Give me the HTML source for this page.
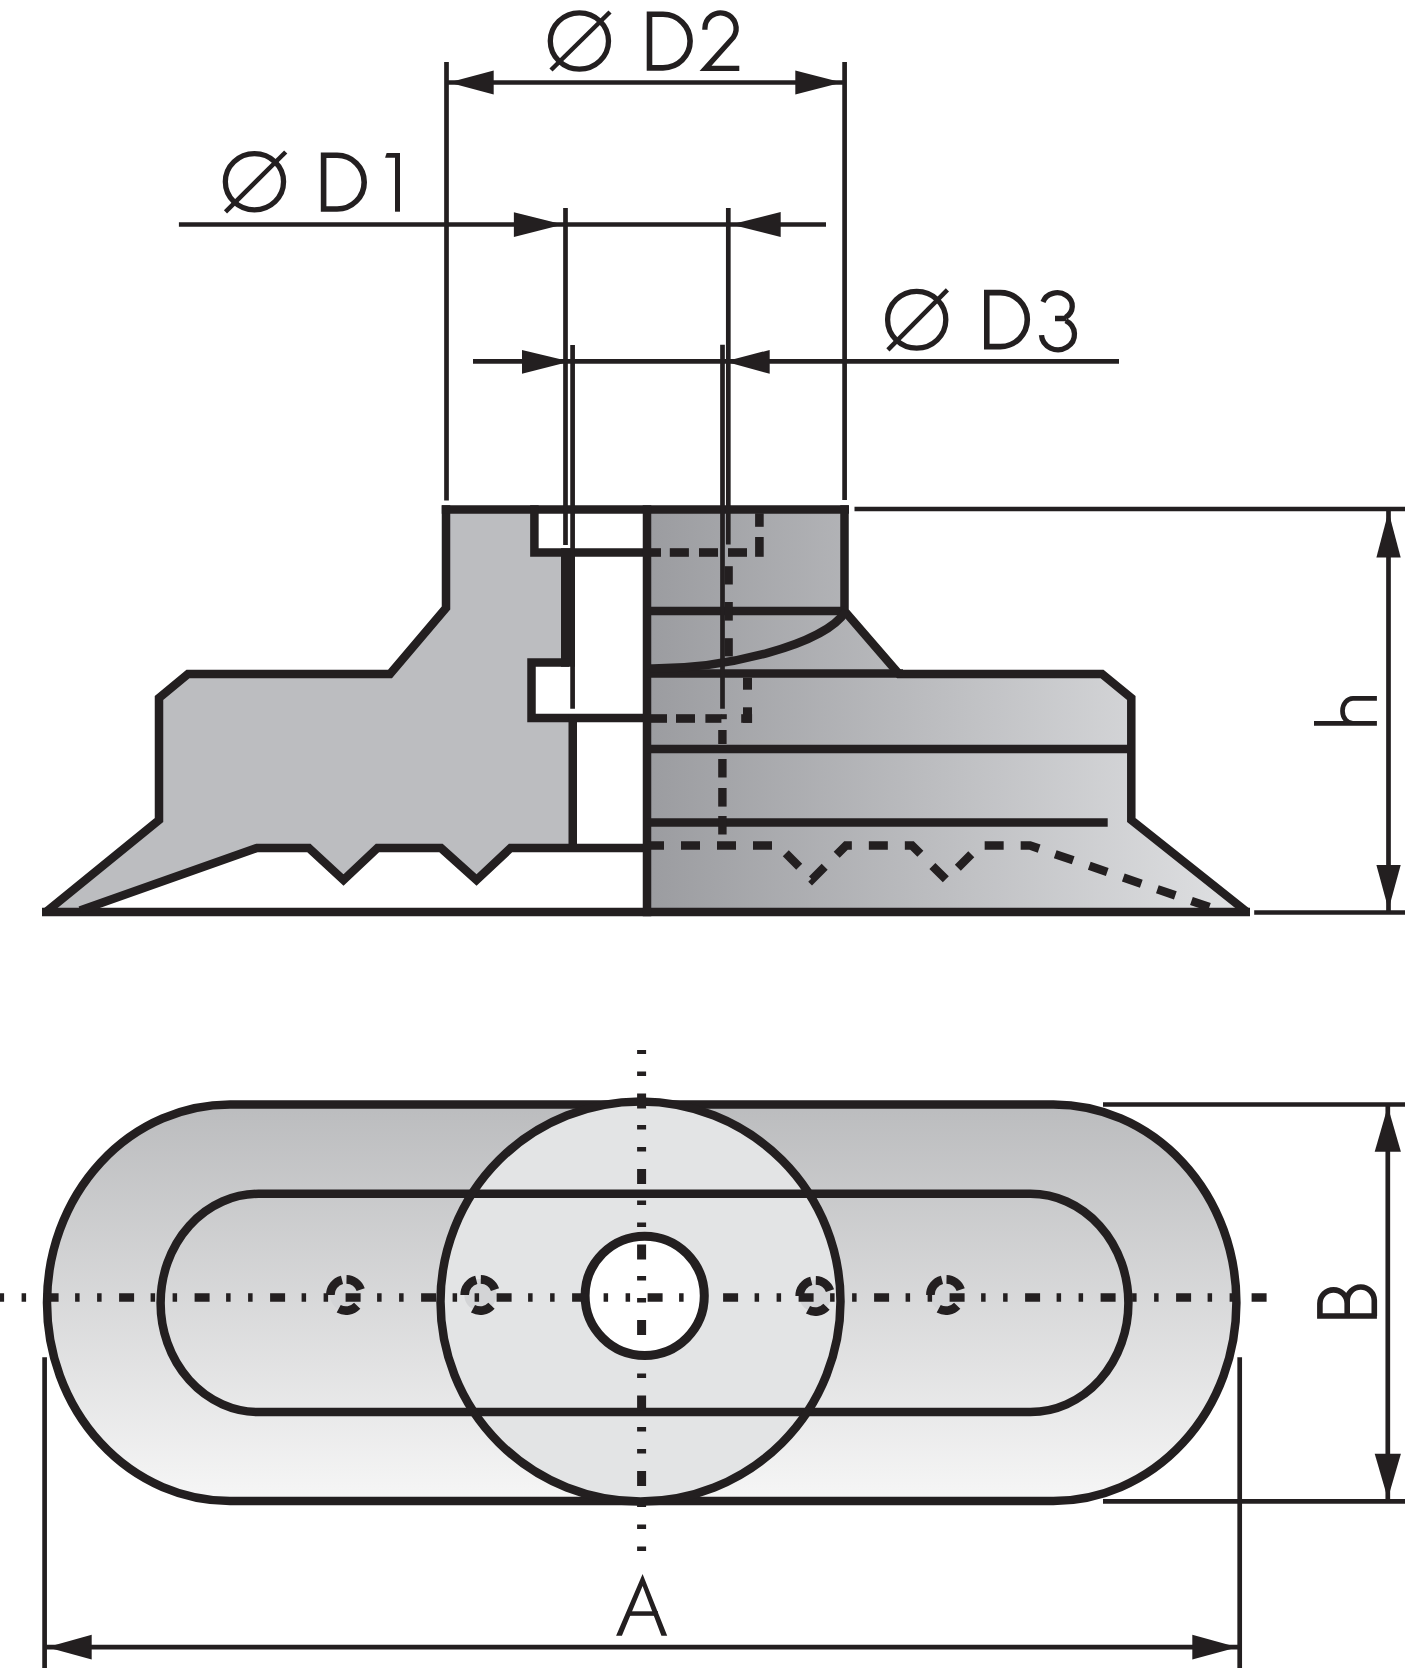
<!DOCTYPE html>
<html><head><meta charset="utf-8"><title>Suction cup drawing</title>
<style>
html,body{margin:0;padding:0;background:#fff;}
body{width:1405px;height:1668px;overflow:hidden;font-family:"Liberation Sans",sans-serif;}
svg{display:block;}
</style></head>
<body>
<svg width="1405" height="1668" viewBox="0 0 1405 1668">
<defs>
<linearGradient id="gR" gradientUnits="userSpaceOnUse" x1="647" y1="0" x2="1247" y2="0">
<stop offset="0" stop-color="#9b9ca0"/><stop offset="1" stop-color="#e0e1e3"/>
</linearGradient>
<linearGradient id="gS" gradientUnits="userSpaceOnUse" x1="0" y1="1104" x2="0" y2="1501">
<stop offset="0" stop-color="#bbbcbe"/><stop offset="1" stop-color="#f6f6f6"/>
</linearGradient>
</defs>

<!-- ===== SIDE VIEW FILLS ===== -->
<polygon fill="#bcbdc0" points="446,509.5 534.4,509.5 534.4,552.5 565,552.5 565,662.5 531.5,662.5 531.5,718 572.75,718 572.75,848 510.6,848 476.5,880 441,848 377.5,848 343.5,880 308.8,848 257,848 80,911 46,912 159,820 159,698 188,674 390,674 446,608"/>
<polygon fill="url(#gR)" points="647,509.5 844.5,509.5 844.5,611 899,674 1102,674 1131.3,698 1131.3,820 1247,912 647,912"/>

<!-- ===== SIDE VIEW OUTLINES ===== -->
<g fill="none" stroke="#231f20" stroke-width="8.5" stroke-linejoin="miter" stroke-miterlimit="10">
<path d="M446,505.25 V608 L390,674 H188 L159,698 V820 L46,912"/>
<path d="M42,912 H1250"/>
<path d="M80,910.5 L257,848 H308.8 L343.5,880 L377.5,848 H441 L476.5,880 L510.6,848 H651"/>
<path d="M441.75,509.5 H849"/>
<path d="M844.5,505.25 V611 L899,674 H1102 L1131.3,698 V820 L1247,912"/>
<path d="M534.4,505.25 V552.5 H651"/>
<path d="M568,548.25 V666.75" stroke-width="14"/>
<path d="M569,662.5 H531.5 V718 H651"/>
<path d="M572.75,714 V852"/>
<path d="M647,505.25 V916.25"/>
<path d="M647,611 H845"/>
<path d="M647,673.5 H903"/>
<path d="M647,749 H1131"/>
<path d="M647,822.6 H1107.7"/>
<path d="M650,668.5 C724.8,669 824.3,645.5 846,611"/>
</g>

<!-- dashed hidden lines -->
<g fill="#231f20">
<rect x="651" y="548.2" width="10" height="8.6"/>
<rect x="669.8" y="548.2" width="19.1" height="8.6"/>
<rect x="699" y="548.2" width="19" height="8.6"/>
<rect x="728" y="548.2" width="19" height="8.6"/>
<rect x="755.1" y="537" width="8.6" height="19.8"/>
<rect x="755.1" y="513.3" width="8.6" height="13.5"/>
<rect x="724.5" y="566.2" width="8.3" height="18.3"/>
<rect x="724.5" y="602" width="8.3" height="18.6"/>
<rect x="724.5" y="638.2" width="8.3" height="18.2"/>
<rect x="651" y="714.2" width="16" height="8.6"/>
<rect x="676" y="714.2" width="19" height="8.6"/>
<rect x="705.4" y="714.2" width="16" height="8.6"/>
<rect x="721" y="714.2" width="5.8" height="5"/>
<rect x="741.2" y="714.2" width="10.9" height="8.6"/>
<rect x="743" y="707.3" width="9" height="15.5"/>
<rect x="743" y="677.7" width="9" height="12"/>
<rect x="718.2" y="730" width="8.4" height="14"/>
<rect x="718.2" y="759" width="8.4" height="18.5"/>
<rect x="718.2" y="788" width="8.4" height="18.6"/>
<rect x="718.2" y="816" width="8.4" height="18.5"/>
</g>
<path d="M647,845.5 H778 L812,879.5 L846,845.5 H912 L946,879.5 L980,845.5 H1030 L1215,909" fill="none" stroke="#231f20" stroke-width="8.5" stroke-dasharray="19 17" stroke-dashoffset="2"/>

<!-- ===== THIN DIMENSION LINES ===== -->
<g fill="none" stroke="#231f20" stroke-width="4.7">
<path d="M446.5,62 V500.5"/>
<path d="M844.6,62 V500"/>
<path d="M446.5,82.5 H844.6"/>
<path d="M565.5,208 V545"/>
<path d="M728.3,208 V544.6"/>
<path d="M178.9,224.5 H826"/>
<path d="M572.6,345 V708.7"/>
<path d="M722.5,344.8 V708.7"/>
<path d="M473,361.4 H1119"/>
<path d="M854.5,509 H1405"/>
<path d="M1254.2,912.5 H1405"/>
<path d="M1388.5,509 V912"/>
<path d="M1103,1104.5 H1405"/>
<path d="M1103,1501.3 H1405"/>
<path d="M1387.8,1104.5 V1501"/>
<path d="M44.6,1357.3 V1668"/>
<path d="M1239.7,1357.3 V1668"/>
<path d="M44.6,1647.2 H1239.7"/>
</g>
<g fill="#231f20">
<polygon points="448.8,82.5 493.7,70.5 493.7,94.5"/>
<polygon points="841.9,82.5 795.3,70.5 795.3,94.5"/>
<polygon points="563,224.5 513.9,212.3 513.9,237"/>
<polygon points="731,224.5 780.7,212 780.7,237"/>
<polygon points="570,361.4 522,349.9 522,373.8"/>
<polygon points="725,361.4 769.7,349.9 769.7,373.8"/>
<polygon points="1388.5,511.6 1376.4,557.4 1400.7,557.4"/>
<polygon points="1388.5,909.5 1376.4,865 1400.7,865"/>
<polygon points="1387.8,1106.5 1374.7,1151.7 1400.9,1151.7"/>
<polygon points="1387.8,1498.7 1374.7,1453.8 1400.9,1453.8"/>
<polygon points="47,1647.2 91.7,1634.8 91.7,1659.6"/>
<polygon points="1237.5,1647.2 1192.3,1634.8 1192.3,1659.6"/>
</g>

<!-- ===== TEXT GLYPHS ===== -->
<g fill="none" stroke="#231f20" stroke-width="5.3" stroke-linecap="butt">
<!-- O/ D2 -->
<ellipse cx="579.4" cy="41" rx="29.1" ry="28.2"/>
<path d="M551,70 L610,12" stroke-width="4.5"/>
<path d="M649.5,14.3 H663 A27.1,26.8 0 0 1 663,67.9 H649.5 Z" stroke-width="5.6"/>
<path d="M704.9,29.8 V28.5 A15.6,15.6 0 1 1 733.3,37.4 L705.5,68.4 H739.3" stroke-linejoin="miter" stroke-miterlimit="6"/>
<!-- O/ D1 -->
<ellipse cx="254.45" cy="181.8" rx="29.1" ry="28.1"/>
<path d="M225.5,211.8 L285.7,152" stroke-width="4.5"/>
<path d="M323.6,155.3 H337.1 A27.1,26.85 0 0 1 337.1,209 H323.6 Z" stroke-width="5.6"/>
<!-- O/ D3 -->
<ellipse cx="916.7" cy="319.75" rx="29.1" ry="28.35"/>
<path d="M887.9,349.8 L947.4,289.8" stroke-width="4.5"/>
<path d="M986.8,292.6 H1000.3 A27,27 0 0 1 1000.3,346.6 H986.8 Z" stroke-width="5.6"/>
<path d="M1043,302 A15,13.5 0 1 1 1065.5,317.5 M1055,318.5 H1066 M1065.7,320.7 A16.5,15.4 0 1 1 1041.5,335.2"/>
<!-- h -->
<path d="M1314,723.4 H1376.9 M1376.9,698.4 H1353 A10.5,12.5 0 0 0 1353,723.4" stroke-width="4.7"/>
<!-- B -->
<path d="M1317.1,1316 H1376.9 M1319.9,1316 V1303.5 A13.65,13.7 0 0 1 1347.2,1303.5 V1316 M1347.2,1316 V1300.5 A13.55,13.55 0 0 1 1374.3,1300.5 V1316" stroke-width="5.6"/>
<!-- A -->

</g>
<g fill="#231f20">
<polygon points="395,153 400,153 400,211.7 395,211.7"/>
<polygon points="386.6,153 400,153 400,157.8 385.1,157.8"/>
<polygon points="616.1,1635.7 642.6,1574 667.2,1635.7 661.4,1635.7 642.6,1586 621.9,1635.7"/>
<rect x="627" y="1611.3" width="31" height="4.5"/>
</g>

<!-- ===== BOTTOM VIEW ===== -->
<path d="M230,1104.5 H1053.4 A183,198.25 0 0 1 1053.4,1501 H230 A183,198.25 0 0 1 230,1104.5 Z" fill="url(#gS)" stroke="#231f20" stroke-width="8.5"/>
<circle cx="640.5" cy="1301.5" r="200" fill="#e3e4e5"/>
<path d="M258.5,1193.8 H1030.5 A98,109.1 0 0 1 1030.5,1412 H258.5 A98,109.1 0 0 1 258.5,1193.8 Z" fill="none" stroke="#231f20" stroke-width="8.5"/>
<circle cx="640.5" cy="1301.5" r="200" fill="none" stroke="#231f20" stroke-width="8.5"/>
<circle cx="644.7" cy="1295.8" r="59.6" fill="#ffffff" stroke="#231f20" stroke-width="9"/>
<g fill="#d3d4d6">
<circle cx="346" cy="1295" r="16"/><circle cx="480.3" cy="1295" r="16"/><circle cx="815.3" cy="1296" r="16"/><circle cx="946" cy="1295" r="16"/>
</g>
<path d="M0,1297.5 H1268" fill="none" stroke="#231f20" stroke-width="8.6" stroke-dasharray="15 16.5 4.5 17.5 4.5 17.5" stroke-dashoffset="31.9"/>
<path d="M641.6,1050 V1551" fill="none" stroke="#231f20" stroke-width="9" stroke-dasharray="15 16.5 4.5 17.5 4.5 17.5" stroke-dashoffset="32.1"/>
<g fill="none" stroke="#231f20" stroke-width="8.6">
<path d="M357.2,1305.8 A15.4,15.4 0 0 1 338.7,1308.8 M330.4,1295.0 A15.4,15.4 0 0 1 342.0,1279.9 M346.5,1279.4 A15.4,15.4 0 0 1 360.7,1289.7"/>
<path d="M491.5,1305.8 A15.4,15.4 0 0 1 473.0,1308.8 M464.7,1295.0 A15.4,15.4 0 0 1 476.3,1279.9 M480.8,1279.4 A15.4,15.4 0 0 1 495.0,1289.7"/>
<path d="M826.5,1306.8 A15.4,15.4 0 0 1 808.0,1309.8 M799.7,1296.0 A15.4,15.4 0 0 1 811.3,1280.9 M815.8,1280.4 A15.4,15.4 0 0 1 830.0,1290.7"/>
<path d="M957.2,1305.8 A15.4,15.4 0 0 1 938.7,1308.8 M930.4,1295.0 A15.4,15.4 0 0 1 942.0,1279.9 M946.5,1279.4 A15.4,15.4 0 0 1 960.7,1289.7"/>
</g>
</svg>
</body></html>
